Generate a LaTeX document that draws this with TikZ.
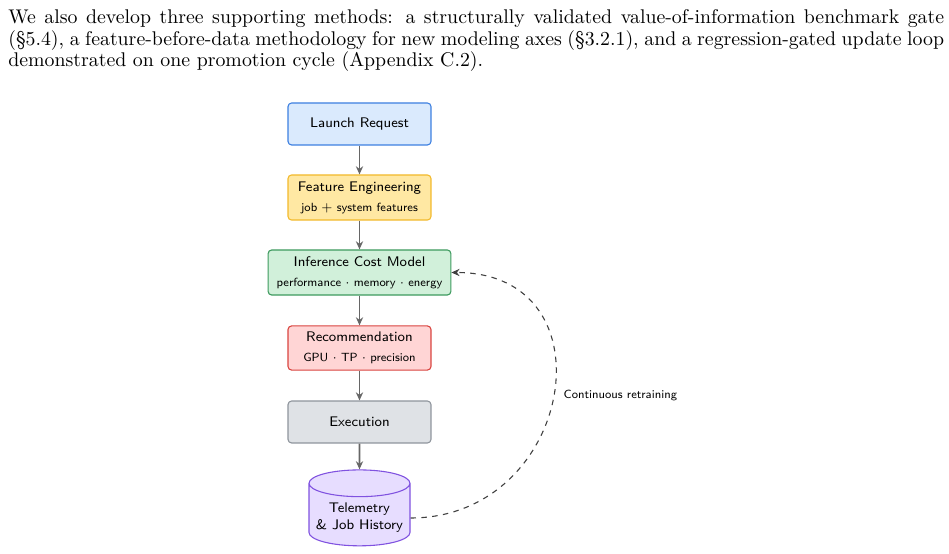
\documentclass[tikz,border=0pt]{standalone}
\usepackage{amsmath}
\usepackage{amssymb}
\usepackage{tikz}
\usetikzlibrary{arrows.meta,shapes.geometric}

\definecolor{bluefill}{HTML}{DAEAFD}
\definecolor{blueline}{HTML}{3C7FE0}
\definecolor{yelfill}{HTML}{FFE8A3}
\definecolor{yelline}{HTML}{F2B92B}
\definecolor{grnfill}{HTML}{D1F0DA}
\definecolor{grnline}{HTML}{3D9A5E}
\definecolor{redfill}{HTML}{FFD5D5}
\definecolor{redline}{HTML}{D9443F}
\definecolor{gryfill}{HTML}{DFE2E6}
\definecolor{gryline}{HTML}{8E949C}
\definecolor{purfill}{HTML}{E7DDFF}
\definecolor{purline}{HTML}{8052E0}
\definecolor{arrcol}{HTML}{666666}

\begin{document}
\begin{tikzpicture}[x=0.5525pt,y=-0.5525pt,
    box/.style={draw, rounded corners=2pt, line width=0.6pt, minimum width=79pt,
      minimum height=23.2pt, inner xsep=4.7pt, align=center, font=\sffamily\fontsize{7.7}{9}\selectfont},
    db/.style={draw, cylinder, shape border rotate=90, aspect=0.27, line width=0.6pt,
      minimum width=55.8pt, minimum height=40.9pt, align=center, font=\sffamily\fontsize{7.7}{9.4}\selectfont},
    flow/.style={-{Stealth[length=4.5pt,width=4pt]}, arrcol, line width=0.9pt},
    sub/.style={font=\sffamily\fontsize{6.55}{8}\selectfont}]
  \useasboundingbox (0,0) rectangle (949,554);
  % text above the figure
  \node[anchor=north west, inner sep=0pt, text width=517pt, align=justify,
    font=\fontsize{10.95}{12}\selectfont] (para) at (8,9)
    {We also develop three supporting methods: a structurally validated value-of-information
     benchmark gate\linebreak (\S5.4), a feature-before-data methodology for new modeling axes (\S3.2.1),
     and a regression-gated update loop\linebreak demonstrated on one promotion cycle (Appendix C.2).};
  % pipeline
  \node[box, fill=bluefill, draw=blueline] (launch) at (359.5,124) {Launch Request};
  \node[box, fill=yelfill, draw=yelline, minimum height=24.9pt] (feat) at (359.5,197.5)
    {Feature Engineering\\[2pt]{\fontsize{6.55}{8}\selectfont job $+$ system features}};
  \node[box, fill=grnfill, draw=grnline, minimum height=24.9pt] (cost) at (359.5,272.5)
    {Inference Cost Model\\[2pt]{\fontsize{6.55}{8}\selectfont performance $\cdot$ memory $\cdot$ energy}};
  \node[box, fill=redfill, draw=redline, minimum height=24.4pt] (rec) at (359.5,348)
    {Recommendation\\[2pt]{\fontsize{6.55}{8}\selectfont GPU $\cdot$ TP $\cdot$ precision}};
  \node[box, fill=gryfill, draw=gryline] (exec) at (359.5,422) {Execution};
  \node[db, fill=purfill, draw=purline] (hist) at (359.5,518) {Telemetry\\\& Job History};

  \draw[flow] (launch) -- (feat);
  \draw[flow] (feat) -- (cost);
  \draw[flow] (cost) -- (rec);
  \draw[flow] (rec) -- (exec);
  \draw[flow] (exec) -- (hist);
  % feedback loop
  \draw[flow, line width=0.6pt, dashed, draw=black!75] (hist.east) to[out=0, in=0, looseness=1.68]
    node[pos=0.5, right, sub, text=black, xshift=2pt] {Continuous retraining} (cost.east);
\end{tikzpicture}
\end{document}
